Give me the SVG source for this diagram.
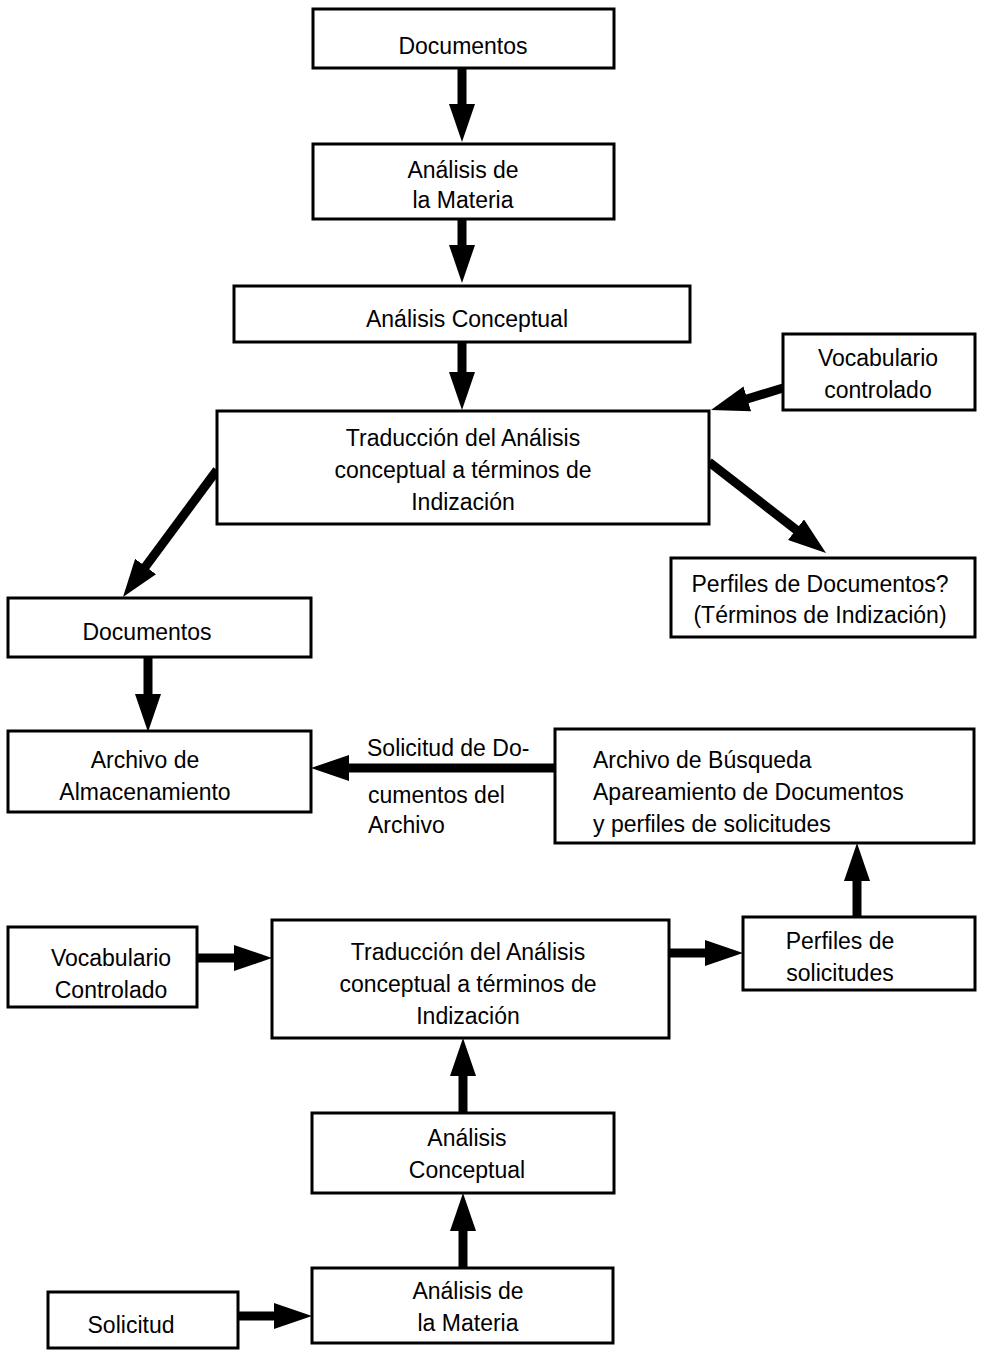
<svg xmlns="http://www.w3.org/2000/svg" width="982" height="1351" viewBox="0 0 982 1351">
<style>
.box{fill:#fff;stroke:#000;stroke-width:3}
.t{font-family:"Liberation Sans",Arial,sans-serif;font-size:23px;fill:#000}
.c{text-anchor:middle}
.cn line{stroke:#000;stroke-width:9;marker-end:url(#ah)}
</style>
<defs>
<marker id="ah" markerUnits="userSpaceOnUse" markerWidth="40" markerHeight="26" refX="2" refY="13" orient="auto" viewBox="0 0 40 26">
<path d="M0,0 L38,13 L0,26 z" fill="#000"/>
</marker>
</defs>
<rect width="982" height="1351" fill="#fff"/>
<g class="cn" id="connectors">
<line x1="462" y1="69" x2="462" y2="106"/>
<line x1="462" y1="219" x2="462" y2="247"/>
<line x1="462" y1="342" x2="462" y2="374"/>
<line x1="783" y1="388" x2="745.4" y2="399.5"/>
<line x1="217" y1="470" x2="144.4" y2="568.1"/>
<line x1="709" y1="462" x2="797.6" y2="530.9"/>
<line x1="148" y1="657" x2="148" y2="696"/>
<line x1="555" y1="768" x2="347" y2="768"/>
<line x1="857" y1="918" x2="857" y2="879"/>
<line x1="197" y1="958" x2="236" y2="958"/>
<line x1="669" y1="953" x2="707" y2="953"/>
<line x1="463" y1="1113" x2="463" y2="1074"/>
<line x1="463" y1="1268" x2="463" y2="1229"/>
<line x1="238" y1="1316" x2="276" y2="1316"/>
</g>
<g id="n1"><rect class="box" x="313" y="9" width="301" height="59"/><text class="t c" x="463" y="54">Documentos</text></g>
<g id="n2"><rect class="box" x="313" y="144" width="301" height="75"/><text class="t c" x="463" y="178">Análisis de</text><text class="t c" x="463" y="208">la Materia</text></g>
<g id="n3"><rect class="box" x="234" y="286" width="456" height="56"/><text class="t c" x="467" y="327">Análisis Conceptual</text></g>
<g id="n4"><rect class="box" x="217" y="411" width="492" height="113"/><text class="t c" x="463" y="446">Traducción del Análisis</text><text class="t c" x="463" y="478">conceptual a términos de</text><text class="t c" x="463" y="510">Indización</text></g>
<g id="n5"><rect class="box" x="783" y="334" width="192" height="76"/><text class="t c" x="878" y="366">Vocabulario</text><text class="t c" x="878" y="398">controlado</text></g>
<g id="n6"><rect class="box" x="671" y="558" width="304" height="79"/><text class="t c" x="820" y="592">Perfiles de Documentos?</text><text class="t c" x="820" y="623">(Términos de Indización)</text></g>
<g id="n7"><rect class="box" x="8" y="598" width="303" height="59"/><text class="t c" x="147" y="640">Documentos</text></g>
<g id="n8"><rect class="box" x="8" y="731" width="303" height="81"/><text class="t c" x="145" y="768">Archivo de</text><text class="t c" x="145" y="800">Almacenamiento</text></g>
<g id="n9"><rect class="box" x="555" y="729" width="419" height="114"/><text class="t" x="593" y="768">Archivo de Búsqueda</text><text class="t" x="593" y="800">Apareamiento de Documentos</text><text class="t" x="593" y="832">y perfiles de solicitudes</text></g>
<g id="lbl"><text class="t" x="367" y="756">Solicitud de Do-</text><text class="t" x="368" y="803">cumentos del</text><text class="t" x="368" y="833">Archivo</text></g>
<g id="n10"><rect class="box" x="743" y="917" width="232" height="73"/><text class="t c" x="840" y="949">Perfiles de</text><text class="t c" x="840" y="981">solicitudes</text></g>
<g id="n11"><rect class="box" x="8" y="927" width="189" height="80"/><text class="t c" x="111" y="966">Vocabulario</text><text class="t c" x="111" y="998">Controlado</text></g>
<g id="n12"><rect class="box" x="272" y="920" width="397" height="118"/><text class="t c" x="468" y="960">Traducción del Análisis</text><text class="t c" x="468" y="992">conceptual a términos de</text><text class="t c" x="468" y="1024">Indización</text></g>
<g id="n13"><rect class="box" x="312" y="1113" width="302" height="80"/><text class="t c" x="467" y="1146">Análisis</text><text class="t c" x="467" y="1178">Conceptual</text></g>
<g id="n14"><rect class="box" x="312" y="1268" width="301" height="75"/><text class="t c" x="468" y="1299">Análisis de</text><text class="t c" x="468" y="1331">la Materia</text></g>
<g id="n15"><rect class="box" x="48" y="1292" width="190" height="56"/><text class="t c" x="131" y="1333">Solicitud</text></g>
</svg>
